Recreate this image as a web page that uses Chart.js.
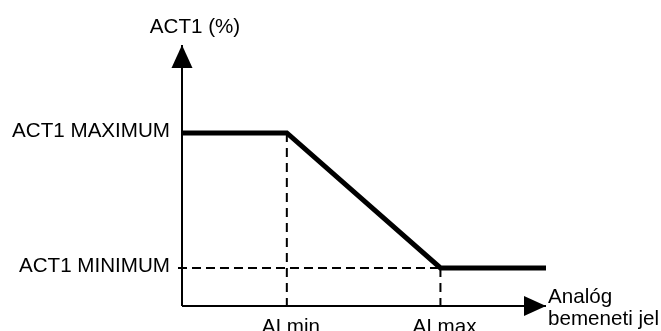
<!DOCTYPE html>
<html>
<head>
<meta charset="utf-8">
<script src="https://cdn.jsdelivr.net/npm/chart.js@4/dist/chart.umd.min.js"></script>
<style>
html,body{margin:0;padding:0;background:#fff;}
canvas{display:block;}
</style>
</head>
<body>
<canvas id="c" width="661" height="331"></canvas>
<script>
// Data (units: percent of axis length)
const xTickLabels = ['AI min', 'AI max'];
const xTickValues = [28.8, 71];
const yTickLabels = ['ACT1 MAXIMUM', 'ACT1 MINIMUM'];
const yTickValues = [66.3, 14.6];
const curveX = [0, 28.8, 71, 100];
const curveY = [66.3, 66.3, 14.6, 14.6];
const yAxisTitle = 'ACT1 (%)';
const xAxisTitle = ['Analóg', 'bemeneti jel'];

const FONT = '20.6px "Liberation Sans", Arial, sans-serif';

const pts = (xs, ys) => xs.map((x, i) => ({x: x, y: ys[i]}));

const datasets = [
  // axes
  {data: pts([0, 0], [100, 0]), borderWidth: 2},
  {data: pts([0, 100], [0, 0]), borderWidth: 2},
  // dashed guides
  {data: pts([xTickValues[0], xTickValues[0]], [yTickValues[0], -2.3]), borderWidth: 2, borderDash: [9, 6]},
  {data: pts([xTickValues[1], xTickValues[1]], [yTickValues[1], -2.3]), borderWidth: 2, borderDash: [9, 6]},
  {data: pts([-1.1, xTickValues[1]], [yTickValues[1], yTickValues[1]]), borderWidth: 2, borderDash: [9, 5]},
  // characteristic curve
  {data: pts(curveX, curveY), borderWidth: 5, borderJoinStyle: 'miter'}
].map(d => Object.assign({showLine: true, borderColor: '#000', pointRadius: 0, clip: false, fill: false, tension: 0}, d));

const annotate = {
  id: 'annotate',
  afterDatasetsDraw(chart) {
    const ctx = chart.ctx, xs = chart.scales.x, ys = chart.scales.y;
    const x0 = xs.getPixelForValue(0), y0 = ys.getPixelForValue(0);
    const yTip = ys.getPixelForValue(100), xTip = xs.getPixelForValue(100);
    ctx.save();
    ctx.fillStyle = '#000';
    // arrow heads
    ctx.beginPath();
    ctx.moveTo(x0, yTip);
    ctx.lineTo(x0 - 10.5, yTip + 23);
    ctx.lineTo(x0 + 10.5, yTip + 23);
    ctx.closePath();
    ctx.fill();
    ctx.beginPath();
    ctx.moveTo(xTip, y0);
    ctx.lineTo(xTip - 22, y0 - 10);
    ctx.lineTo(xTip - 22, y0 + 10);
    ctx.closePath();
    ctx.fill();
    // texts
    ctx.font = FONT;
    ctx.textBaseline = 'alphabetic';
    ctx.textAlign = 'right';
    yTickLabels.forEach((t, i) => {
      ctx.fillText(t, x0 - 12, ys.getPixelForValue(yTickValues[i]) + 4);
    });
    ctx.textAlign = 'center';
    xTickLabels.forEach((t, i) => {
      ctx.fillText(t, xs.getPixelForValue(xTickValues[i]) + 4, y0 + 27);
    });
    ctx.fillText(yAxisTitle, x0 + 13, yTip - 12);
    ctx.textAlign = 'left';
    ctx.fillText(xAxisTitle[0], xTip + 2, y0 - 3);
    ctx.fillText(xAxisTitle[1], xTip + 2, y0 + 19);
    ctx.restore();
  }
};

new Chart(document.getElementById('c'), {
  type: 'scatter',
  data: {datasets: datasets},
  options: {
    responsive: false,
    animation: false,
    layout: {padding: {left: 182, right: 115, top: 45, bottom: 25}},
    plugins: {legend: {display: false}, tooltip: {enabled: false}},
    scales: {
      x: {type: 'linear', min: 0, max: 100, display: false},
      y: {type: 'linear', min: 0, max: 100, display: false}
    }
  },
  plugins: [annotate]
});
</script>
</body>
</html>
